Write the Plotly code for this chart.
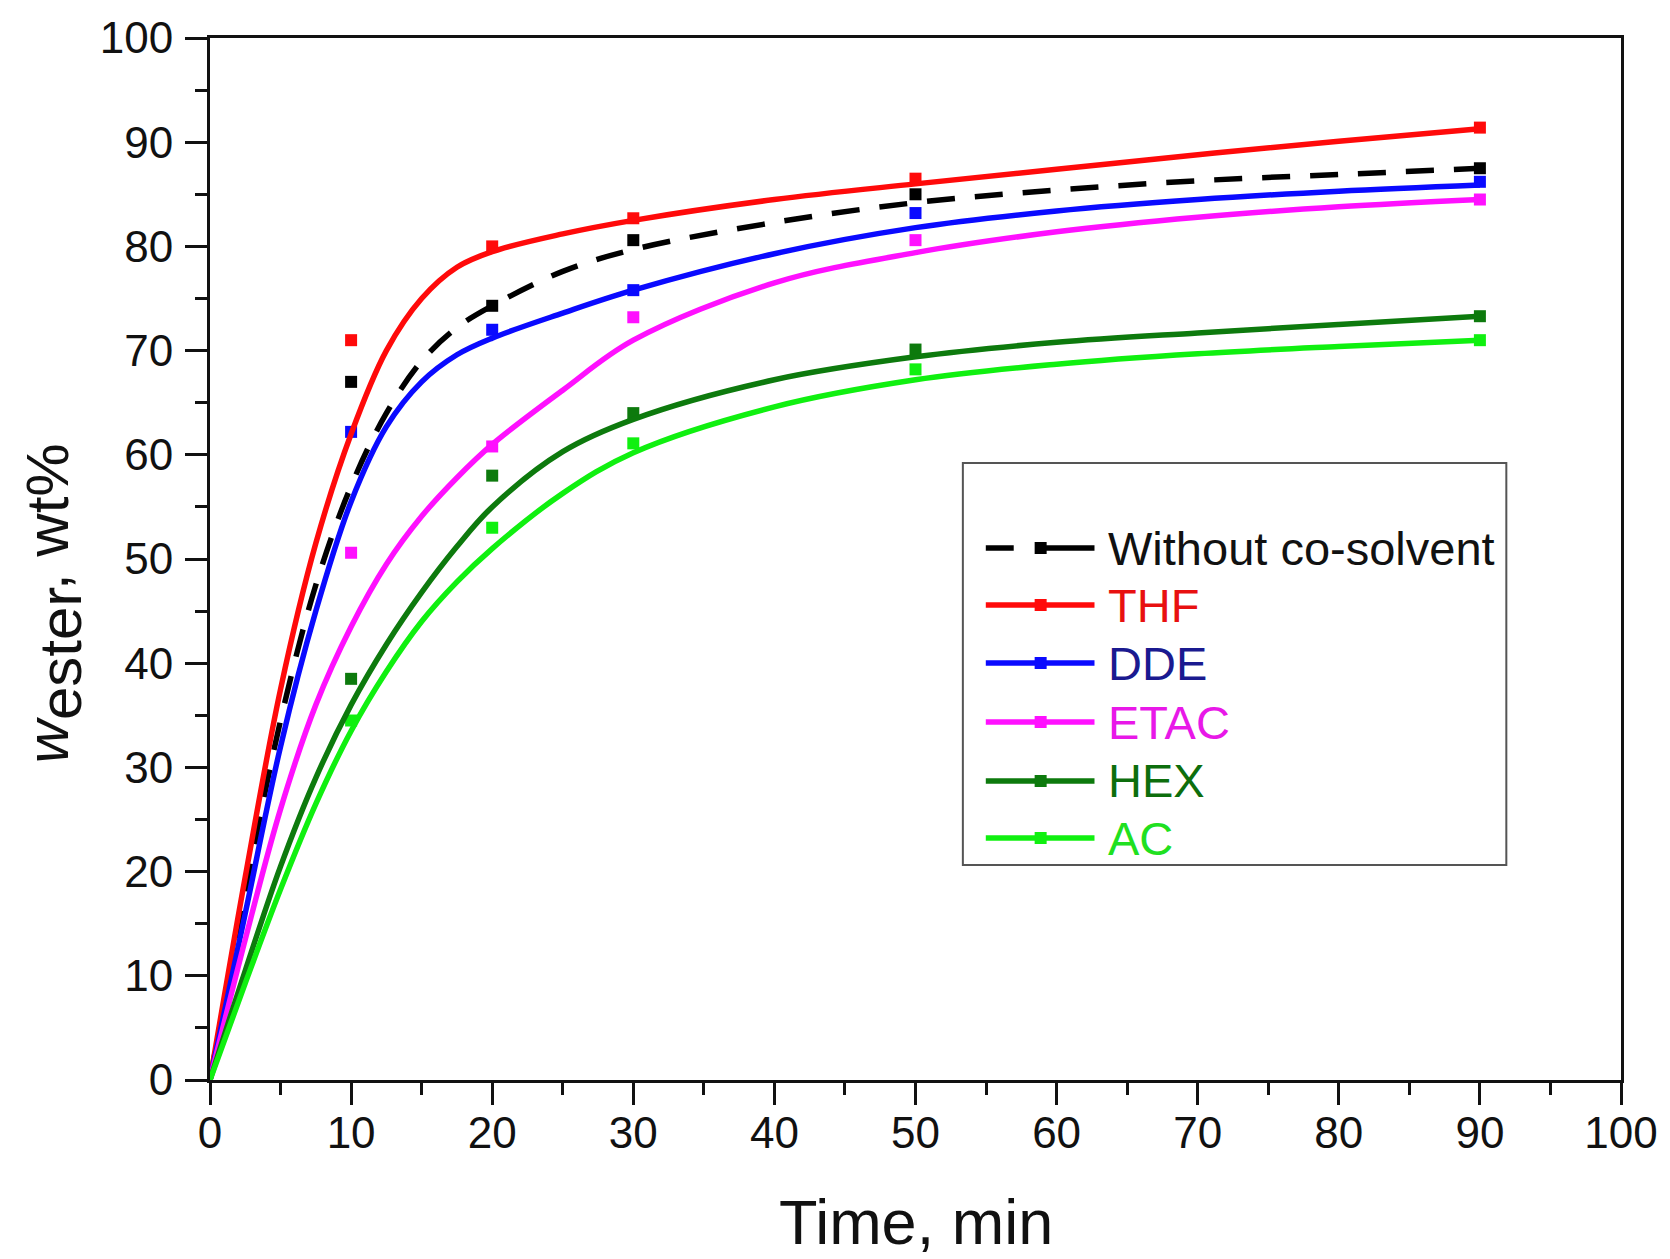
import plotly.graph_objects as go

# ---- measured points (reaction time, min) ----
t_exp = [10, 20, 30, 50, 90]
y_without = [67.0, 74.3, 80.6, 85.0, 87.5]
y_thf = [71.0, 80.0, 82.7, 86.5, 91.4]
y_dde = [62.2, 72.0, 75.8, 83.2, 86.2]
y_etac = [50.6, 60.8, 73.2, 80.6, 84.5]
y_hex = [38.5, 58.0, 64.0, 70.1, 73.3]
y_ac = [34.5, 53.0, 61.1, 68.2, 71.0]

# ---- model curves ----
t_fit = [0, 2.5, 5, 7.5, 10, 12.5, 15, 17.5, 20, 25, 30, 40, 50, 60, 70, 80, 90]
fit_without = [0, 18.0, 34.5, 47.5, 57.0, 64.0, 69.0, 72.2, 74.3, 77.6, 79.7, 82.3, 84.2, 85.4, 86.3, 86.9, 87.5]
fit_thf = [0, 19.5, 37.5, 51.5, 62.0, 70.0, 75.0, 78.0, 79.5, 81.2, 82.5, 84.5, 86.0, 87.4, 88.8, 90.1, 91.3]
fit_dde = [0, 16.0, 32.0, 45.0, 55.5, 62.7, 67.0, 69.6, 71.2, 73.6, 75.8, 79.3, 81.8, 83.4, 84.5, 85.3, 85.9]
fit_etac = [0, 13.5, 26.0, 36.0, 43.5, 49.5, 54.1, 57.8, 61.0, 66.2, 71.0, 76.5, 79.4, 81.4, 82.8, 83.8, 84.5]
fit_hex = [0, 10.5, 20.5, 29.0, 36.0, 41.8, 46.8, 51.2, 55.0, 60.3, 63.4, 67.2, 69.4, 70.8, 71.7, 72.5, 73.3]
fit_ac = [0, 9.3, 18.3, 26.5, 33.5, 39.2, 44.0, 47.8, 51.0, 56.3, 60.2, 64.6, 67.2, 68.7, 69.7, 70.4, 71.0]

labels = ["Without co-solvent", "THF", "DDE", "ETAC", "HEX", "AC"]
line_colors = ["#000000", "#ff0a0a", "#0a0aff", "#ff10ff", "#0d7a0d", "#10f010"]
text_colors = ["#111111", "#e81010", "#1a1a90", "#e818e8", "#0d6e0d", "#20e020"]
exp_sets = [y_without, y_thf, y_dde, y_etac, y_hex, y_ac]
fit_sets = [fit_without, fit_thf, fit_dde, fit_etac, fit_hex, fit_ac]
DASH = "28px,20px"

FONT = "Arial, Liberation Sans, sans-serif"

fig = go.Figure()

# experimental squares first, then the fitted curves over them
for lab, col, ys in zip(labels, line_colors, exp_sets):
    fig.add_trace(go.Scatter(
        x=t_exp, y=ys, mode="markers", name=lab, showlegend=False,
        marker=dict(symbol="square", size=12, color=col),
    ))
for i, (lab, col, ys) in enumerate(zip(labels, line_colors, fit_sets)):
    fig.add_trace(go.Scatter(
        x=t_fit, y=ys, mode="lines", name=lab, showlegend=False,
        line=dict(color=col, width=5.5, shape="spline", smoothing=1.0,
                  dash=DASH if i == 0 else "solid"),
    ))

# plot area in pixels
W, H = 1670, 1259
L, R, T, B = 210, 1625, 38, 1080


def px_x(p):
    return (p - L) / (R - L)


def px_y(p):
    return (B - p) / (B - T)


shapes = []
annotations = []

# legend frame
shapes.append(dict(type="rect", xref="paper", yref="paper",
                   x0=px_x(965), x1=px_x(1510), y0=px_y(865), y1=px_y(463),
                   line=dict(color="#555555", width=2), fillcolor="white", layer="above"))
row_y = [548, 605, 663, 722, 781, 838]
for lab, col, tcol, ry in zip(labels, line_colors, text_colors, row_y):
    yy = px_y(ry)
    if lab == labels[0]:
        shapes.append(dict(type="line", xref="paper", yref="paper",
                           x0=px_x(988), x1=px_x(1016), y0=yy, y1=yy,
                           line=dict(color=col, width=5.5), layer="above"))
        shapes.append(dict(type="line", xref="paper", yref="paper",
                           x0=px_x(1040), x1=px_x(1097), y0=yy, y1=yy,
                           line=dict(color=col, width=5.5), layer="above"))
    else:
        shapes.append(dict(type="line", xref="paper", yref="paper",
                           x0=px_x(988), x1=px_x(1097), y0=yy, y1=yy,
                           line=dict(color=col, width=5.5), layer="above"))
    shapes.append(dict(type="rect", xref="paper", yref="paper",
                       xsizemode="pixel", ysizemode="pixel",
                       xanchor=px_x(1043), yanchor=yy,
                       x0=-6, x1=6, y0=-6, y1=6,
                       line=dict(width=0), fillcolor=col, layer="above"))
    annotations.append(dict(xref="paper", yref="paper", x=px_x(1109), y=yy,
                            xanchor="left", yanchor="middle", showarrow=False,
                            text=lab, font=dict(family=FONT, size=47, color=tcol)))

# axis titles
annotations.append(dict(xref="paper", yref="paper", x=0.5, y=px_y(1222),
                        xanchor="center", yanchor="middle", showarrow=False,
                        text="Time, min", font=dict(family=FONT, size=63, color="#111111")))
annotations.append(dict(xref="paper", yref="paper", x=px_x(54), y=px_y(603),
                        xanchor="center", yanchor="middle", showarrow=False,
                        textangle=-90,
                        text='<i>w</i><sub><span style="font-size:60px">ester</span></sub>, wt%',
                        font=dict(family=FONT, size=60, color="#111111")))

axis_common = dict(
    showgrid=False, zeroline=False,
    showline=True, linecolor="#111111", linewidth=3, mirror=True,
    ticks="outside", ticklen=22, tickwidth=3, tickcolor="#111111",
    tickfont=dict(family=FONT, size=44, color="#111111"),
)
minor_ticks = dict(ticks="outside", ticklen=12, tickwidth=3, tickcolor="#111111", dtick=5)

fig.update_layout(
    width=W, height=H,
    margin=dict(l=L, r=W - R, t=T, b=H - B, pad=0),
    paper_bgcolor="white", plot_bgcolor="white",
    showlegend=False,
    shapes=shapes, annotations=annotations,
    xaxis=dict(range=[0, 100], tick0=0, dtick=10, minor=minor_ticks,
               ticklabelstandoff=-10, **axis_common),
    yaxis=dict(range=[0, 100], tick0=0, dtick=10, minor=minor_ticks,
               ticklabelstandoff=3, **axis_common),
)

fig.write_html("out.html")
